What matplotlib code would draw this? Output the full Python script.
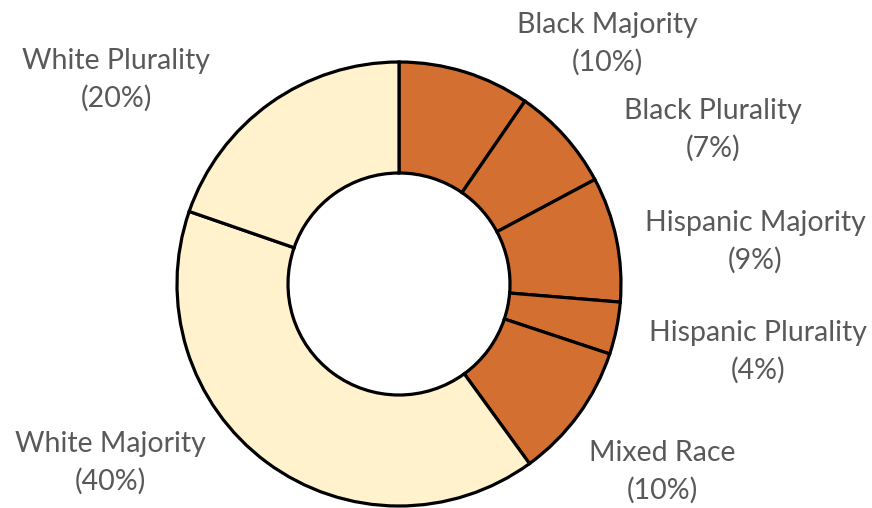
import matplotlib
matplotlib.use("Agg")
import matplotlib.pyplot as plt

# slice data, clockwise from 12 o'clock
categories = [
    "Black Majority",
    "Black Plurality",
    "Hispanic Majority",
    "Hispanic Plurality",
    "Mixed Race",
    "White Majority",
    "White Plurality",
]
shares = [9.6, 7.6, 9.1, 3.8, 9.9, 40.3, 19.7]
pct_labels = ["10%", "7%", "9%", "4%", "10%", "40%", "20%"]

# label anchors in pixels (x, y from top)
label_x = [607, 713, 755, 758, 662, 110, 116]
label_y = [44, 130, 242, 352, 472, 463, 80]

orange = "#D36F31"
cream = "#FFF2CC"
colors = [orange] * 5 + [cream] * 2

W, H = 872, 508
fig = plt.figure(figsize=(W / 100, H / 100), dpi=100)
ax = fig.add_axes([0, 0, 1, 1])

ax.pie(
    shares,
    colors=colors,
    startangle=90,
    counterclock=False,
    center=(399, H - 284),
    radius=222,
    wedgeprops=dict(width=111, edgecolor="black", linewidth=2.3),
)

for name, pct, x, y in zip(categories, pct_labels, label_x, label_y):
    ax.text(
        x, H - y, f"{name}\n({pct})",
        ha="center", va="center", multialignment="center",
        fontsize=20.5, color="#595959", family="Lato", linespacing=1.5,
    )

ax.set_xlim(0, W)
ax.set_ylim(0, H)
ax.set_aspect("equal")
ax.axis("off")

fig.savefig("out.png", dpi=100)
